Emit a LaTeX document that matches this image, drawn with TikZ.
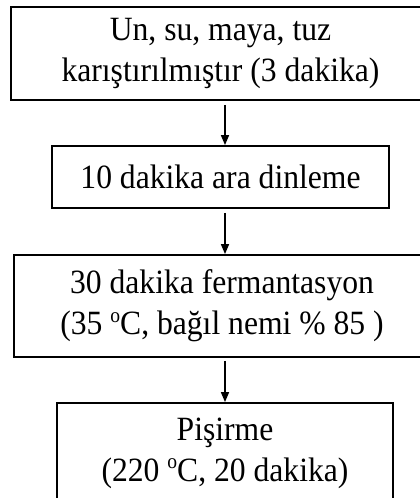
\documentclass[tikz,border=0pt]{standalone}
\usepackage{fontspec}
\setmainfont{Liberation Serif}[FakeStretch=0.93]
\usetikzlibrary{arrows.meta}
\newcommand{\dego}{\raisebox{12.5pt}{\fontsize{21}{21}\selectfont o}}
\begin{document}
\begin{tikzpicture}[x=1pt,y=-1pt]

      \useasboundingbox (0,0) rectangle (420,498);
      \clip (0,0) rectangle (420,498);
      \coordinate (ax) at (225,0);

      \begin{scope}[every node/.style={draw, line width=1.8pt, inner sep=0pt, align=center,
          font=\fontsize{34}{41}\selectfont}]
        \node[minimum width=419pt, minimum height=93pt]  (mix)  at (220.5,53.5) {Un, su, maya, tuz\\karıştırılmıştır (3 dakika)};
        \node[minimum width=337pt, minimum height=62pt]  (rest) at (220.5,177)  {10 dakika ara dinleme};
        \node[minimum width=416pt, minimum height=102pt] (ferm) at (222,306)    {30 dakika fermantasyon\\(35 \dego C, bağıl nemi \% 85 )};
        \node[minimum width=336pt, minimum height=100pt] (bake) at (225,453)    {Pişirme\\(220 \dego C, 20 dakika)};
      \end{scope}

      \begin{scope}[every path/.style={draw, line width=1.5pt, -{Triangle[length=10pt,width=8pt]}}]
        \path ([yshift=-4pt]mix.south -| ax)  -- (rest.north -| ax);
        \path ([yshift=-4pt]rest.south -| ax) -- (ferm.north -| ax);
        \path ([yshift=-3pt]ferm.south -| ax) -- (bake.north -| ax);
      \end{scope}

    \end{tikzpicture}
\end{document}
